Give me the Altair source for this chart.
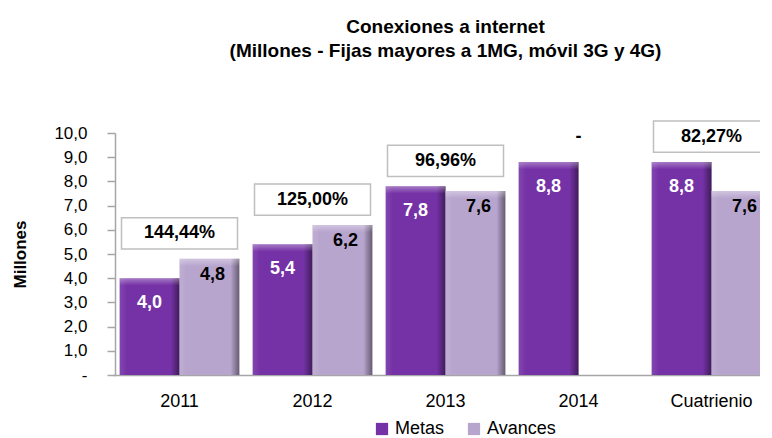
import altair as alt
import pandas as pd

categories = ["2011", "2012", "2013", "2014", "Cuatrienio"]
metas = [4.0, 5.4, 7.8, 8.8, 8.8]
avances = [4.8, 6.2, 7.6, None, 7.6]
porcentajes = ["144,44%", "125,00%", "96,96%", "-", "82,27%"]
series = ["Metas", "Avances"]
colors = ["#7532A6", "#B8A5CE"]
y_ticks = [0, 1, 2, 3, 4, 5, 6, 7, 8, 9, 10]


def fmt(v):
    return f"{v:.1f}".replace(".", ",")


rows = []
for c, m, a in zip(categories, metas, avances):
    rows.append({"cat": c, "serie": "Metas", "valor": m, "label": fmt(m)})
    if a is not None:
        rows.append({"cat": c, "serie": "Avances", "valor": a, "label": fmt(a)})
bars_df = pd.DataFrame(rows)

pct_rows = []
for c, m, a, p in zip(categories, metas, avances, porcentajes):
    top = max(v for v in (m, a) if v is not None)
    pct_rows.append({"cat": c, "pct": p, "ypos": top + 1.05, "box": p != "-"})
pct_df = pd.DataFrame(pct_rows)

FONT = "Liberation Sans"

xaxis = alt.Axis(title=None, labelAngle=0, ticks=False, labelFontSize=18,
                 labelFont=FONT, labelColor="#000000",
                 labelPadding=17, domainColor="#A6A6A6", domainWidth=1.5)
xscale = alt.Scale(range=[-2, 663], paddingInner=0.1, paddingOuter=0.05)
xenc = alt.X("cat:N", sort=categories, scale=xscale, axis=xaxis)
xoff = alt.XOffset("serie:N", sort=series, scale=alt.Scale(domain=series))
yscale = alt.Scale(domain=[0, 10], nice=False)
yaxis = alt.Axis(title="Millones", values=y_ticks, tickCount=len(y_ticks) + 1, grid=False,
                 labelOverlap=False,
                 labelExpr="datum.value == 0 ? '-' : replace(format(datum.value, '.1f'), '.', ',')",
                 labelFontSize=17, labelFont=FONT, labelColor="#000000",
                 labelPadding=20, tickSize=8, tickColor="#A6A6A6", tickWidth=1.5,
                 domainColor="#A6A6A6", domainWidth=1.5,
                 titleFontSize=17, titleFont=FONT, titleFontWeight="bold",
                 titleColor="#000000", titleAngle=270, titleX=-95, titleY=121,
                 titleAlign="center", titleBaseline="middle")
yenc = alt.Y("valor:Q", scale=yscale, axis=yaxis)
ypos = alt.Y("ypos:Q", scale=yscale, axis=yaxis)

base = alt.Chart(bars_df)

bars = base.mark_bar().encode(
    x=xenc, xOffset=xoff, y=yenc,
    color=alt.Color("serie:N", sort=series,
                    scale=alt.Scale(domain=series, range=colors),
                    legend=alt.Legend(title=None, orient="none", direction="horizontal",
                                      legendX=258, legendY=287, symbolType="square",
                                      symbolSize=150, symbolStrokeWidth=0, labelFontSize=18,
                                      labelFont=FONT, labelColor="#000000",
                                      labelOffset=4, columnPadding=20)),
)

shade = base.mark_bar(
    color=alt.Gradient(gradient="linear", x1=0, x2=1, y1=0, y2=0, stops=[
        alt.GradientStop(color="rgba(255,255,255,0.10)", offset=0),
        alt.GradientStop(color="rgba(255,255,255,0)", offset=0.12),
        alt.GradientStop(color="rgba(0,0,0,0)", offset=0.85),
        alt.GradientStop(color="rgba(0,0,0,0.45)", offset=1),
    ])
).encode(x=xenc, xOffset=xoff, y=yenc)

bevel = base.transform_calculate(bev="datum.valor - 0.3").mark_bar(
    color=alt.Gradient(gradient="linear", x1=0, x2=0, y1=0, y2=1, stops=[
        alt.GradientStop(color="rgba(255,255,255,0.35)", offset=0),
        alt.GradientStop(color="rgba(255,255,255,0.0)", offset=1),
    ])
).encode(x=xenc, xOffset=xoff, y=yenc, y2="bev:Q")

metas_text = base.transform_filter(alt.datum.serie == "Metas").mark_text(
    color="white", font=FONT, fontWeight="bold", fontSize=18,
    baseline="middle", dy=25
).encode(x=xenc, xOffset=xoff, y=yenc, text="label:N")

avances_text = base.transform_filter(alt.datum.serie == "Avances").mark_text(
    color="black", font=FONT, fontWeight="bold", fontSize=18,
    baseline="middle", dy=16, dx=3
).encode(x=xenc, xOffset=xoff, y=yenc, text="label:N")

pbase = alt.Chart(pct_df)
boxes = pbase.transform_filter(alt.datum.box).mark_point(
    shape="M-1,-0.27L1,-0.27L1,0.27L-1,0.27Z", size=116 * 116, filled=True,
    fill="white", stroke="#BFBFBF", strokeWidth=1.5, opacity=1
).encode(x=xenc, y=ypos)

pct_text = pbase.mark_text(
    color="black", font=FONT, fontWeight="bold", fontSize=18,
    baseline="middle"
).encode(x=xenc, y=ypos, text="pct:N")

chart = alt.layer(bars, shade, bevel, metas_text, avances_text, boxes, pct_text).properties(
    width=645, height=242,
    autosize=alt.AutoSizeParams(type="none"),
    padding={"left": 107, "top": 125, "right": 0, "bottom": 63},
    title=alt.TitleParams(
        text=["Conexiones a internet", "(Millones - Fijas mayores a 1MG, móvil 3G y 4G)"],
        anchor="middle", fontSize=19, font=FONT, fontWeight="bold",
        color="#000000", offset=57, lineHeight=24, dx=8),
).configure_view(stroke=None)

chart.save("out.html", embed_options={"renderer": "svg", "actions": False})
